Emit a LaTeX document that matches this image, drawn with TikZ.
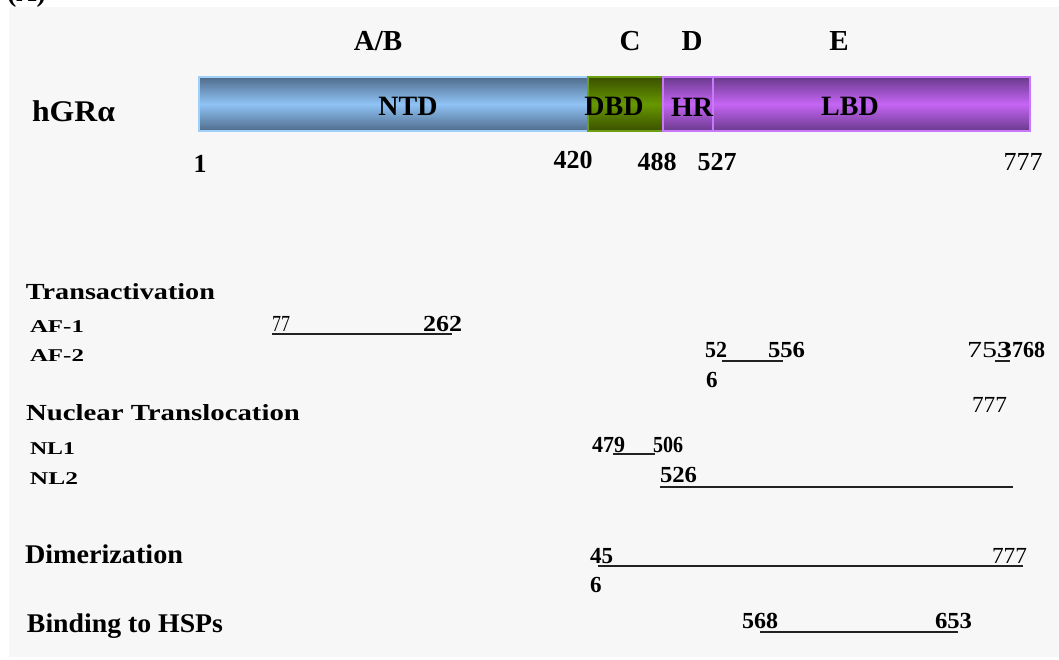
\documentclass[tikz,border=0pt]{standalone}
\usepackage{fontspec}
\setmainfont{Liberation Serif}
\usepackage{graphicx}
\newsavebox\fitbox
\newcommand\fitx[2]{\sbox\fitbox{#2}\pgfmathsetmacro\fxs{#1/\the\wd\fitbox}\scalebox{\fxs}[1]{\usebox\fitbox}}
\definecolor{bgc}{HTML}{F7F7F7}
\definecolor{ntdedge}{HTML}{506C8C}
\definecolor{ntdmid}{HTML}{8FC3F5}
\definecolor{ntdline}{HTML}{A0CFFA}
\definecolor{dbdedge}{HTML}{3B5000}
\definecolor{dbdmid}{HTML}{679800}
\definecolor{dbdline}{HTML}{6E9E12}
\definecolor{lbdedge}{HTML}{6A3A8C}
\definecolor{lbdmid}{HTML}{C565F5}
\definecolor{lbdline}{HTML}{C878F8}
\definecolor{linec}{HTML}{222222}
\tikzset{
  txt/.style={inner sep=0pt, outer sep=0pt},
  hdr/.style={txt, font=\bfseries\fontsize{29}{31}\selectfont},
  barlab/.style={txt, font=\bfseries\fontsize{28}{30}\selectfont},
  posnum/.style={txt, font=\bfseries\fontsize{26}{28}\selectfont},
  posreg/.style={txt, font=\fontsize{26}{28}\selectfont},
  head/.style={txt, anchor=base west, font=\bfseries\fontsize{23}{25}\selectfont},
  sublab/.style={txt, anchor=base west, font=\bfseries\fontsize{18}{20}\selectfont},
  head2/.style={txt, anchor=base west, font=\bfseries\fontsize{27}{29}\selectfont},
  num/.style={txt, anchor=base west, font=\bfseries\fontsize{23}{25}\selectfont},
  numreg/.style={txt, anchor=base west, font=\fontsize{23}{25}\selectfont},
  seg/.style={anchor=north west, inner sep=0pt, outer sep=0pt, line width=1.8pt, minimum height=54pt},
  ntdbox/.style={seg, draw=ntdline, top color=ntdedge, bottom color=ntdedge, middle color=ntdmid},
  dbdbox/.style={seg, draw=dbdline, top color=dbdedge, bottom color=dbdedge, middle color=dbdmid},
  lbdbox/.style={seg, draw=lbdline, top color=lbdedge, bottom color=lbdedge, middle color=lbdmid},
  conn/.style={draw=linec, line width=2.2pt}
}
\begin{document}
\begin{tikzpicture}[x=1pt, y=-1pt]
\useasboundingbox (0,0) rectangle (1059,659);
\fill[bgc] (9,7) rectangle (1059,657);
\node[txt, anchor=base west, font=\bfseries\fontsize{28}{30}\selectfont] (panel) at (7,1) {(A)};
% domain letters
\node[hdr, anchor=base] (ab) at (378,50) {A/B};
\node[hdr, anchor=base] (c) at (630,50) {C};
\node[hdr, anchor=base] (d) at (692,50) {D};
\node[hdr, anchor=base] (e) at (839,50) {E};
% bar
\node[ntdbox, minimum width=389pt] (ntd) at (199,77) {};
\node[dbdbox, minimum width=75pt] (dbd) at (588,77) {};
\node[lbdbox, minimum width=50pt] (hr) at (663,77) {};
\node[lbdbox, minimum width=317pt] (lbd) at (713,77) {};
\node[barlab, anchor=base] (ntdl) at (408,115) {NTD};
\node[barlab, anchor=base] (dbdl) at (614,115) {DBD};
\node[barlab, anchor=base] (hrl) at (692,116) {HR};
\node[barlab, anchor=base] (lbdl) at (850,115) {LBD};
\node[txt, anchor=base west, font=\bfseries\fontsize{30}{32}\selectfont] (hgr) at (32,121) {\fitx{83}{hGRα}};
% positions under the bar
\node[posnum, anchor=base] (p1) at (200,172) {1};
\node[posnum, anchor=base] (p420) at (573,168) {420};
\node[posnum, anchor=base] (p488) at (657,170) {488};
\node[posnum, anchor=base] (p527) at (717,170) {527};
\node[posreg, anchor=base] (p777) at (1023,170) {777};
% Transactivation
\node[head] (trans) at (26,299) {\fitx{189}{Transactivation}};
\node[sublab] (af1) at (30,332) {\fitx{54}{AF-1}};
\node[sublab] (af2) at (30,361) {\fitx{54}{AF-2}};
\node[numreg] (n77) at (272,331) {\fitx{18}{77}};
\node[num] (n262) at (423,331) {\fitx{39}{262}};
\coordinate (af1a) at (272,334);
\coordinate (af1b) at (452,334);
\draw[conn] (af1a) -- (af1b);
\node[num] (n52) at (705,357) {\fitx{22}{52}};
\node[num] (n556) at (768,357) {\fitx{37}{556}};
\node[num] (n6a) at (706,387) {6};
\coordinate (af2a) at (722,361);
\coordinate (af2b) at (783,361);
\draw[conn] (af2a) -- (af2b);
\node[num] (n753) at (967,357) {\fitx{45}{\mdseries 75\bfseries 3}};
\node[num] (n768) at (1012,357) {\fitx{33}{768}};
\coordinate (af2c) at (995,361);
\coordinate (af2d) at (1010,361);
\draw[conn] (af2c) -- (af2d);
% Nuclear translocation
\node[head] (nuc) at (26,420) {\fitx{274}{Nuclear Translocation}};
\node[numreg] (n777b) at (972,412) {\fitx{35}{777}};
\node[sublab] (nl1) at (30,454) {\fitx{45}{NL1}};
\node[sublab] (nl2) at (30,484) {\fitx{48}{NL2}};
\node[num] (n479) at (592,452) {\fitx{33}{479}};
\node[num] (n506) at (653,452) {\fitx{30}{506}};
\coordinate (nl1a) at (613,454);
\coordinate (nl1b) at (655,454);
\draw[conn] (nl1a) -- (nl1b);
\node[num] (n526) at (660,482) {\fitx{37}{526}};
\coordinate (nl2a) at (660,487);
\coordinate (nl2b) at (1013,487);
\draw[conn] (nl2a) -- (nl2b);
% Dimerization
\node[head2] (dim) at (25,563) {\fitx{158}{Dimerization}};
\node[num] (n45) at (590,563) {\fitx{23}{45}};
\node[num] (n6b) at (590,592) {6};
\node[numreg] (n777c) at (992,563) {\fitx{35}{777}};
\coordinate (dima) at (598,566);
\coordinate (dimb) at (1023,566);
\draw[conn] (dima) -- (dimb);
% HSP binding
\node[head2] (bind) at (27,632) {\fitx{196}{Binding to HSPs}};
\node[num] (n568) at (742,628) {\fitx{36}{568}};
\node[num] (n653) at (935,628) {\fitx{37}{653}};
\coordinate (hspa) at (760,632);
\coordinate (hspb) at (958,632);
\draw[conn] (hspa) -- (hspb);
\end{tikzpicture}
\end{document}
